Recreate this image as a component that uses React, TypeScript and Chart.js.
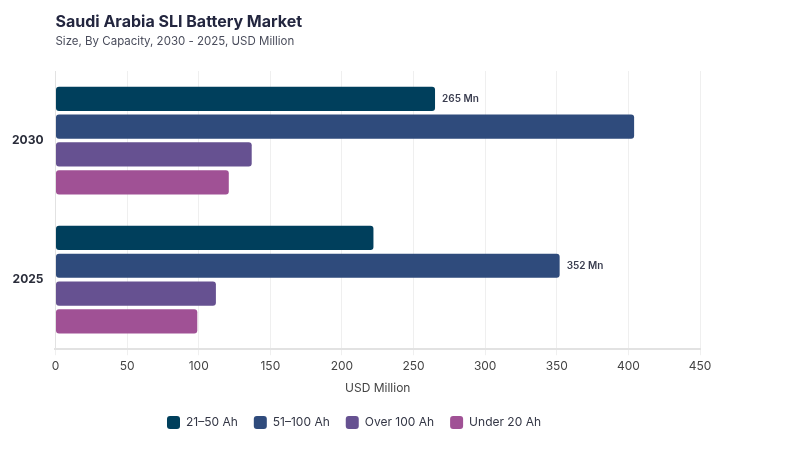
import React, { useEffect, useRef } from "react";
import { Chart, registerables } from "chart.js";

Chart.register(...registerables);

const years = ["2030", "2025"];
const seriesNames = ["21–50 Ah", "51–100 Ah", "Over 100 Ah", "Under 20 Ah"];
const ah21to50 = [265, 222];
const ah51to100 = [404, 352];
const over100 = [137, 112];
const under20 = [121, 99];
const seriesColors = ["#003f5c", "#2f4b7c", "#665191", "#a05195"];
// Value callouts: [dataset index, category index]
const callouts: [number, number][] = [
  [0, 0],
  [1, 1],
];
const xTicks = [0, 50, 100, 150, 200, 250, 300, 350, 400, 450];

const FONT = "Inter, 'Noto Sans', sans-serif";

const headerPlugin = {
  id: "header",
  afterDraw(chart: any) {
    const { ctx, chartArea } = chart;
    ctx.save();
    ctx.textAlign = "left";
    ctx.textBaseline = "alphabetic";
    ctx.fillStyle = "#23263f";
    ctx.font = `bold 16px ${FONT}`;
    ctx.fillText("Saudi Arabia SLI Battery Market", chartArea.left, 27);
    ctx.fillStyle = "#4a4d5c";
    ctx.font = `11.5px ${FONT}`;
    ctx.fillText("Size, By Capacity, 2030 - 2025, USD Million", chartArea.left, 45);
    ctx.restore();
  },
};

const calloutPlugin = {
  id: "callouts",
  afterDatasetsDraw(chart: any) {
    const { ctx } = chart;
    ctx.save();
    ctx.font = `600 10px ${FONT}`;
    ctx.fillStyle = "#3a3d4f";
    ctx.textAlign = "left";
    ctx.textBaseline = "middle";
    callouts.forEach(([di, ci]) => {
      const el = chart.getDatasetMeta(di).data[ci];
      const v = chart.data.datasets[di].data[ci];
      ctx.fillText(`${v} Mn`, el.x + 7, el.y);
    });
    ctx.restore();
  },
};

export default function App() {
  const ref = useRef<HTMLCanvasElement | null>(null);

  useEffect(() => {
    if (!ref.current) return;
    const values = [ah21to50, ah51to100, over100, under20];
    const chart = new Chart(ref.current, {
      type: "bar",
      data: {
        labels: years,
        datasets: seriesNames.map((name, i) => ({
          label: name,
          data: values[i],
          backgroundColor: seriesColors[i],
          borderRadius: 3,
          borderSkipped: false,
          categoryPercentage: 0.8,
          barPercentage: 0.87,
        })),
      },
      options: {
        indexAxis: "y",
        animation: false,
        responsive: false,
        layout: { padding: { top: 71, left: 8, right: 100, bottom: 11 } },
        plugins: {
          title: { display: false },
          tooltip: { enabled: false },
          legend: {
            position: "bottom",
            labels: {
              font: { family: FONT, size: 12 },
              color: "#333645",
              boxWidth: 13,
              boxHeight: 13,
              useBorderRadius: true,
              borderRadius: 3,
              padding: 16,
            },
          },
        },
        scales: {
          x: {
            min: 0,
            max: 450,
            afterBuildTicks(axis: any) {
              axis.ticks = xTicks.map((v) => ({ value: v }));
            },
            grid: {
              color: "#efefef",
              tickLength: 6,
              drawTicks: true,
            },
            border: { color: "#e2e2e2", width: 2 },
            ticks: {
              font: { family: FONT, size: 12 },
              color: "#444",
              padding: 4,
            },
            title: {
              display: true,
              text: "USD Million",
              font: { family: FONT, size: 12 },
              color: "#444",
              padding: { top: 4, bottom: 4 },
            },
          },
          y: {
            grid: { display: false },
            border: { color: "#e2e2e2", width: 1 },
            ticks: {
              font: { family: FONT, size: 12, weight: "bold" },
              color: "#2a2d3a",
              padding: 4,
            },
          },
        },
      },
      plugins: [headerPlugin, calloutPlugin],
    });
    return () => chart.destroy();
  }, []);

  return (
    <div style={{ position: "absolute", left: 0, top: 0, width: 800, height: 450, background: "#fff" }}>
      <canvas ref={ref} width={800} height={450} />
    </div>
  );
}
